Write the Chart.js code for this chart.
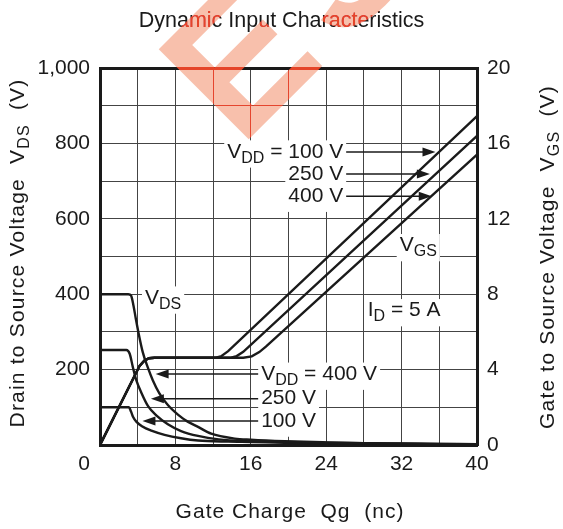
<!DOCTYPE html>
<html>
<head>
<meta charset="utf-8">
<script src="https://cdn.jsdelivr.net/npm/chart.js@4.4.0/dist/chart.umd.min.js"></script>
<style>
    html, body { margin: 0; padding: 0; background: #fff; }
    #contenedor { width: 563px; height: 529px; }
</style>
</head>
<body>
<div id="contenedor"><canvas id="graficoCarga"></canvas></div>
<script>
const FUENTE = "'Liberation Sans', Arial, sans-serif";
const TINTA = '#1a1a1a';

// V_DS (eje izquierdo, V) frente a carga de puerta Qg (nC)
const qDs400 = [0, 3.0, 3.3, 3.55, 3.8, 4.05, 4.55, 5.1, 5.6, 6.3, 7.2, 8.3, 9.3, 10.4, 11.8, 14.3, 16, 19.6, 24, 28, 32, 36, 40];
const vDs400 = [400, 400, 396, 370, 335, 302, 245, 204, 172, 137, 106, 80, 62, 48, 30, 17, 14, 10, 7, 5, 4, 3, 2];
const qDs250 = [0, 2.8, 3.15, 3.5, 3.85, 4.4, 5.1, 6.0, 7.2, 8.6, 10.4, 12.6, 16, 19.6, 24, 28, 32, 36, 40];
const vDs250 = [252, 252, 242, 205, 172, 138, 103, 78, 55, 37, 24, 15, 10, 8, 6, 5, 3.5, 2.5, 1.5];
const qDs100 = [0, 3.05, 3.3, 3.5, 3.85, 4.5, 5.45, 6.85, 8.6, 10.4, 13.6, 16, 19.6, 24, 28, 32, 36, 40];
const vDs100 = [100, 100, 88, 75, 62, 49, 38, 27, 18, 12, 9, 8, 6, 5, 4, 3, 2, 1];

// V_GS (eje derecho, V) frente a Qg (nC)
const qGs100 = [0, 4.2, 4.7, 5.2, 5.8, 12.3, 12.9, 13.6, 40];
const vGs100 = [0, 4.2, 4.47, 4.6, 4.63, 4.63, 4.72, 4.98, 17.45];
const qGs250 = [0, 4.2, 4.7, 5.2, 5.8, 13.9, 14.5, 15.2, 40];
const vGs250 = [0, 4.2, 4.47, 4.6, 4.63, 4.63, 4.72, 4.94, 16.4];
const qGs400 = [0, 4.2, 4.7, 5.2, 5.8, 15.2, 16.1, 16.9, 17.6, 40];
const vGs400 = [0, 4.2, 4.47, 4.6, 4.63, 4.63, 4.7, 4.93, 5.22, 15.4];

// marcas de los ejes
const ticksQ = [8, 16, 24, 32, 40];
const ticksVds = [200, 400, 600, 800, 1000];
const ticksVgs = [0, 4, 8, 12, 16, 20];

// textos del grafico: partes [texto, subindice]
const etiquetas = [
    { partes: [['V'], ['DD', 1], [' = 100 V']], eje: 'y2', x: 25.8, y: 15.55, alinear: 'right' },
    { partes: [['250 V']], eje: 'y2', x: 25.8, y: 14.38, alinear: 'right' },
    { partes: [['400 V']], eje: 'y2', x: 25.8, y: 13.2, alinear: 'right' },
    { partes: [['V'], ['GS', 1]], eje: 'y2', x: 31.8, y: 10.58, alinear: 'left' },
    { partes: [['I'], ['D', 1], [' = 5 A']], eje: 'y2', x: 28.4, y: 7.13, alinear: 'left' },
    { partes: [['V'], ['DS', 1]], eje: 'y', x: 4.77, y: 390, alinear: 'left' },
    { partes: [['V'], ['DD', 1], [' = 400 V']], eje: 'y', x: 17.1, y: 188, alinear: 'left' },
    { partes: [['250 V']], eje: 'y', x: 17.1, y: 123, alinear: 'left' },
    { partes: [['100 V']], eje: 'y', x: 17.1, y: 63.7, alinear: 'left' }
];
// flechas: desde x0 hasta la punta x1, a la altura y
const flechas = [
    { eje: 'y2', x0: 26.0, x1: 35.6, y: 15.55 },
    { eje: 'y2', x0: 26.0, x1: 35.0, y: 14.38 },
    { eje: 'y2', x0: 26.0, x1: 35.2, y: 13.2 },
    { eje: 'y', x0: 16.9, x1: 5.9, y: 188 },
    { eje: 'y', x0: 16.9, x1: 5.4, y: 123 },
    { eje: 'y', x0: 16.9, x1: 4.5, y: 63.7 }
];

function serie(qs, vs, eje, suave) {
    return {
        data: qs.map((q, i) => ({ x: q, y: vs[i] })),
        yAxisID: eje,
        borderColor: TINTA,
        borderWidth: 2.4,
        pointRadius: 0,
        fill: false,
        cubicInterpolationMode: suave ? 'monotone' : 'default',
        tension: 0
    };
}

function dibujarTexto(ctx, partes, x, y, size, alinear, fondo) {
    const fPrincipal = size + 'px ' + FUENTE;
    const fSub = Math.round(size * 0.76) + 'px ' + FUENTE;
    let ancho = 0;
    const medidas = partes.map(p => {
        ctx.font = p[1] ? fSub : fPrincipal;
        const m = ctx.measureText(p[0]).width;
        ancho += m;
        return m;
    });
    let x0 = alinear === 'right' ? x - ancho : alinear === 'center' ? x - ancho / 2 : x;
    if (fondo) {
        ctx.fillStyle = '#fff';
        ctx.fillRect(x0 - 3, y - size * 0.55, ancho + 6, size * 1.3);
    }
    ctx.fillStyle = TINTA;
    ctx.textBaseline = 'middle';
    ctx.textAlign = 'left';
    partes.forEach((p, i) => {
        ctx.font = p[1] ? fSub : fPrincipal;
        ctx.fillText(p[0], x0, p[1] ? y + size * 0.3 : y);
        x0 += medidas[i];
    });
}

function dibujarFlecha(ctx, xa, xb, y) {
    const dir = xb > xa ? 1 : -1;
    ctx.strokeStyle = TINTA;
    ctx.lineWidth = 1.5;
    ctx.beginPath();
    ctx.moveTo(xa, y);
    ctx.lineTo(xb - dir * 10, y);
    ctx.stroke();
    ctx.fillStyle = TINTA;
    ctx.beginPath();
    ctx.moveTo(xb, y);
    ctx.lineTo(xb - dir * 13, y - 4.5);
    ctx.lineTo(xb - dir * 13, y + 4.5);
    ctx.closePath();
    ctx.fill();
}

function marcaDeAgua(ctx, color, modo) {
    ctx.save();
    ctx.globalCompositeOperation = modo;
    ctx.fillStyle = color;
    ctx.translate(240, 148);
    ctx.rotate(-Math.PI / 4);
    ctx.font = 'bold 185px ' + FUENTE;
    ctx.textBaseline = 'alphabetic';
    ctx.textAlign = 'left';
    ctx.fillText('E', 0, 0);
    ctx.fillText('S', 142, 0);
    ctx.restore();
}

const anotaciones = {
    id: 'anotaciones',
    beforeDraw(chart) {
        const { ctx, width, height } = chart;
        ctx.save();
        ctx.fillStyle = '#fff';
        ctx.fillRect(0, 0, width, height);
        ctx.restore();
    },
    afterDatasetsDraw(chart) {
        const { ctx, scales } = chart;
        ctx.save();
        flechas.forEach(f => {
            const py = scales[f.eje].getPixelForValue(f.y);
            dibujarFlecha(ctx, scales.x.getPixelForValue(f.x0), scales.x.getPixelForValue(f.x1), py);
        });
        etiquetas.forEach(e => {
            dibujarTexto(ctx, e.partes, scales.x.getPixelForValue(e.x), scales[e.eje].getPixelForValue(e.y), 21, e.alinear, true);
        });
        ctx.restore();
    },
    afterDraw(chart) {
        const { ctx, chartArea } = chart;
        ctx.save();
        // origen del eje x
        dibujarTexto(ctx, [['0']], chartArea.left - 16, chartArea.bottom + 19, 21, 'center', false);
        // titulos de los ejes
        ctx.letterSpacing = '1px';
        dibujarTexto(ctx, [['Gate Charge  Qg  (nc)']], chartArea.left + 190, chartArea.bottom + 67, 21, 'center', false);
        ctx.letterSpacing = '1.2px';
        ctx.save();
        ctx.translate(chartArea.left - 82, chartArea.top + 185);
        ctx.rotate(-Math.PI / 2);
        dibujarTexto(ctx, [['Drain to Source Voltage  V'], ['DS', 1], ['  (V)']], 0, 0, 21, 'center', false);
        ctx.restore();
        ctx.save();
        ctx.translate(chartArea.right + 71, chartArea.top + 189);
        ctx.rotate(-Math.PI / 2);
        dibujarTexto(ctx, [['Gate to Source Voltage  V'], ['GS', 1], ['  (V)']], 0, 0, 21, 'center', false);
        ctx.restore();
        ctx.restore();
        // marca de agua: tinta roja sobre lo oscuro, salmon sobre el blanco
        marcaDeAgua(ctx, 'rgb(236,92,60)', 'lighten');
        marcaDeAgua(ctx, 'rgb(248,192,172)', 'multiply');
    }
};

const fuenteTicks = { family: FUENTE, size: 21 };

new Chart(document.getElementById('graficoCarga').getContext('2d'), {
    type: 'line',
    data: {
        datasets: [
            serie(qDs400, vDs400, 'y', true),
            serie(qDs250, vDs250, 'y', true),
            serie(qDs100, vDs100, 'y', true),
            serie(qGs100, vGs100, 'y2', false),
            serie(qGs250, vGs250, 'y2', false),
            serie(qGs400, vGs400, 'y2', false)
        ]
    },
    options: {
        responsive: true,
        maintainAspectRatio: false,
        animation: false,
        layout: { padding: 0 },
        plugins: {
            legend: { display: false },
            tooltip: { enabled: false },
            title: {
                display: true,
                text: 'Dynamic Input Characteristics',
                color: TINTA,
                font: { family: FUENTE, size: 21.5, weight: 'normal' },
                padding: { top: 8, bottom: 34.2 }
            }
        },
        scales: {
            x: {
                type: 'linear',
                min: 0,
                max: 40,
                ticks: {
                    stepSize: 4,
                    autoSkip: false,
                    maxRotation: 0,
                    padding: 7,
                    color: TINTA,
                    font: fuenteTicks,
                    callback: v => ticksQ.includes(v) ? String(v) : ''
                },
                grid: { color: '#444', lineWidth: 1, drawTicks: false },
                border: { color: TINTA, width: 3 },
                afterFit: s => { s.height = 84; }
            },
            y: {
                position: 'left',
                min: 0,
                max: 1000,
                ticks: {
                    stepSize: 100,
                    padding: 10,
                    color: TINTA,
                    font: fuenteTicks,
                    callback: v => ticksVds.includes(v) ? v.toLocaleString('en-US') : ''
                },
                grid: {
                    color: ctx => ctx.tick.value === 1000 ? TINTA : '#444',
                    lineWidth: ctx => ctx.tick.value === 1000 ? 3 : 1,
                    drawTicks: false
                },
                border: { color: TINTA, width: 3 },
                afterFit: s => { s.width = 100; }
            },
            y2: {
                position: 'right',
                min: 0,
                max: 20,
                ticks: {
                    stepSize: 2,
                    padding: 10,
                    color: TINTA,
                    font: fuenteTicks,
                    callback: v => ticksVgs.includes(v) ? String(v) : ''
                },
                grid: { drawOnChartArea: false, drawTicks: false },
                border: { color: TINTA, width: 3 },
                afterFit: s => { s.width = 86; }
            }
        }
    },
    plugins: [anotaciones]
});
</script>
</body>
</html>
